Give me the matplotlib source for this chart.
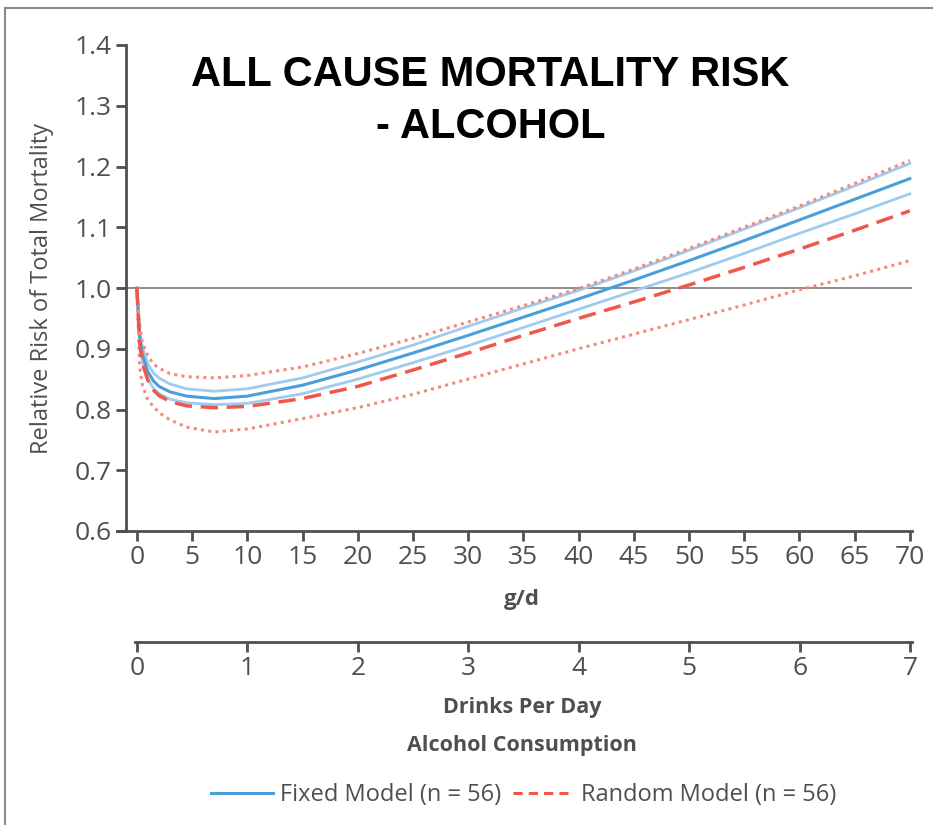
import matplotlib
matplotlib.use("Agg")
import matplotlib.pyplot as plt
from matplotlib.lines import Line2D
from matplotlib.patches import Rectangle

plt.rcParams['font.family'] = ['Open Sans', 'DejaVu Sans']

# alcohol intake, g/d
grams = [0, 0.25, 0.5, 1, 1.5, 2, 3, 4.5, 7, 10, 15, 20, 25, 30, 35, 40, 45, 50, 55, 60, 65, 70]

# fixed model: estimate and CI
fixed_mid = [1.0, 0.92, 0.89, 0.862, 0.847, 0.838, 0.829, 0.822, 0.818, 0.822, 0.84, 0.865, 0.893,
             0.922, 0.952, 0.982, 1.013, 1.045, 1.078, 1.112, 1.146, 1.18]
fixed_hi = [1.0, 0.93, 0.902, 0.875, 0.86, 0.852, 0.842, 0.834, 0.83, 0.834, 0.852, 0.878, 0.906,
            0.937, 0.967, 0.996, 1.028, 1.062, 1.097, 1.132, 1.168, 1.205]
fixed_lo = [1.0, 0.91, 0.878, 0.85, 0.835, 0.826, 0.817, 0.811, 0.808, 0.81, 0.826, 0.85, 0.877,
            0.905, 0.935, 0.965, 0.995, 1.025, 1.057, 1.09, 1.122, 1.155]

# random model: estimate and CI
rand_mid = [1.0, 0.91, 0.876, 0.848, 0.832, 0.823, 0.813, 0.806, 0.803, 0.805, 0.818, 0.838, 0.865,
            0.893, 0.922, 0.95, 0.977, 1.005, 1.034, 1.064, 1.095, 1.127]
rand_hi = [1.0, 0.94, 0.91, 0.888, 0.875, 0.868, 0.859, 0.854, 0.852, 0.856, 0.87, 0.892, 0.917,
           0.944, 0.971, 0.999, 1.031, 1.065, 1.1, 1.135, 1.172, 1.21]
rand_lo = [1.0, 0.87, 0.84, 0.815, 0.805, 0.795, 0.783, 0.771, 0.763, 0.768, 0.785, 0.803, 0.825,
           0.85, 0.875, 0.9, 0.924, 0.948, 0.972, 0.997, 1.02, 1.045]

y_ticks = [0.6, 0.7, 0.8, 0.9, 1.0, 1.1, 1.2, 1.3, 1.4]
g_ticks = list(range(0, 71, 5))
drink_ticks = list(range(0, 8))

grey = '#4f4f4f'
blue = '#4a9fd8'
blue_light = '#9fcbec'
red = '#f0574c'
red_light = '#f48a7e'

fig = plt.figure(figsize=(9.33, 8.25), dpi=100)

# frame around the picture
fig.patches.append(Rectangle((5 / 933, -0.1), 1.2, 1 - 8 / 825 + 0.1, transform=fig.transFigure,
                             fill=False, edgecolor='#8a8a8a', linewidth=1.5))

ax = fig.add_axes([117 / 933, 1 - 531 / 825, (912 - 117) / 933, (531 - 45) / 825])
ax.plot(grams, fixed_hi, color=blue_light, lw=2)
ax.plot(grams, fixed_lo, color=blue_light, lw=2)
ax.plot(grams, fixed_mid, color=blue, lw=2.2)
ax.plot(grams, rand_hi, color=red_light, lw=2.2, linestyle=(0, (1, 1.4)))
ax.plot(grams, rand_lo, color=red_light, lw=2.2, linestyle=(0, (1, 1.4)))
ax.plot(grams, rand_mid, color=red, lw=2.5, linestyle=(0, (5, 2.5)))
ax.axhline(1.0, color='#8c8c8c', lw=1.4, zorder=0)

ax.set_xlim(-1.8, 70.2)
ax.set_ylim(0.6, 1.4)
ax.spines['left'].set_position(('data', -1.0))
ax.spines['top'].set_visible(False)
ax.spines['right'].set_visible(False)
for s in ('left', 'bottom'):
    ax.spines[s].set_color(grey)
    ax.spines[s].set_linewidth(2)
ax.set_xticks(g_ticks)
ax.set_yticks(y_ticks)
ax.set_yticklabels([f'{v:.1f}' for v in y_ticks])
ax.tick_params(colors=grey, labelsize=19, width=2, length=7, pad=3)
ax.set_xlabel('g/d', color=grey, fontsize=16, fontweight='bold', va='center')
ax.xaxis.set_label_coords((522 - 117) / 795, -(600 - 531) / 486)
ax.set_ylabel('Relative Risk of Total Mortality', color=grey, fontsize=17, va='center')
ax.yaxis.set_label_coords((42 - 117) / 795, (531 - 288) / 486)

fig.text(490 / 933, 1 - 75 / 825, 'ALL CAUSE MORTALITY RISK', ha='center', va='center',
         fontsize=30, fontweight='bold', family='Liberation Sans')
fig.text(491 / 933, 1 - 127 / 825, '- ALCOHOL', ha='center', va='center',
         fontsize=30, fontweight='bold', family='Liberation Sans')

# drinks per day scale
ax2 = fig.add_axes([135 / 933, 1 - 642 / 825, (912 - 135) / 933, 0.0001])
ax2.set_xlim(-0.018, 7.018)
ax2.set_yticks([])
for s in ('left', 'right', 'top'):
    ax2.spines[s].set_visible(False)
ax2.spines['bottom'].set_color(grey)
ax2.spines['bottom'].set_linewidth(2)
ax2.set_xticks(drink_ticks)
ax2.tick_params(colors=grey, labelsize=19, width=2, length=7, pad=3)
ax2.patch.set_visible(False)

fig.text(522 / 933, 1 - 708 / 825, 'Drinks Per Day', ha='center', va='center',
         color=grey, fontsize=15.5, fontweight='bold')
fig.text(522 / 933, 1 - 746 / 825, 'Alcohol Consumption', ha='center', va='center',
         color=grey, fontsize=15.5, fontweight='bold')

handles = [Line2D([], [], color=blue, lw=2.2),
           Line2D([], [], color=red, lw=2.2, linestyle=(0, (3, 2)))]
leg = fig.legend(handles, ['Fixed Model (n = 56)', 'Random Model (n = 56)'],
                 loc='center', bbox_to_anchor=(524 / 933, 1 - 795 / 825), ncol=2,
                 frameon=False, fontsize=17, handlelength=2.6, handletextpad=0.3,
                 columnspacing=0.5)
for t in leg.get_texts():
    t.set_color(grey)

fig.savefig('out.png', dpi=100)
